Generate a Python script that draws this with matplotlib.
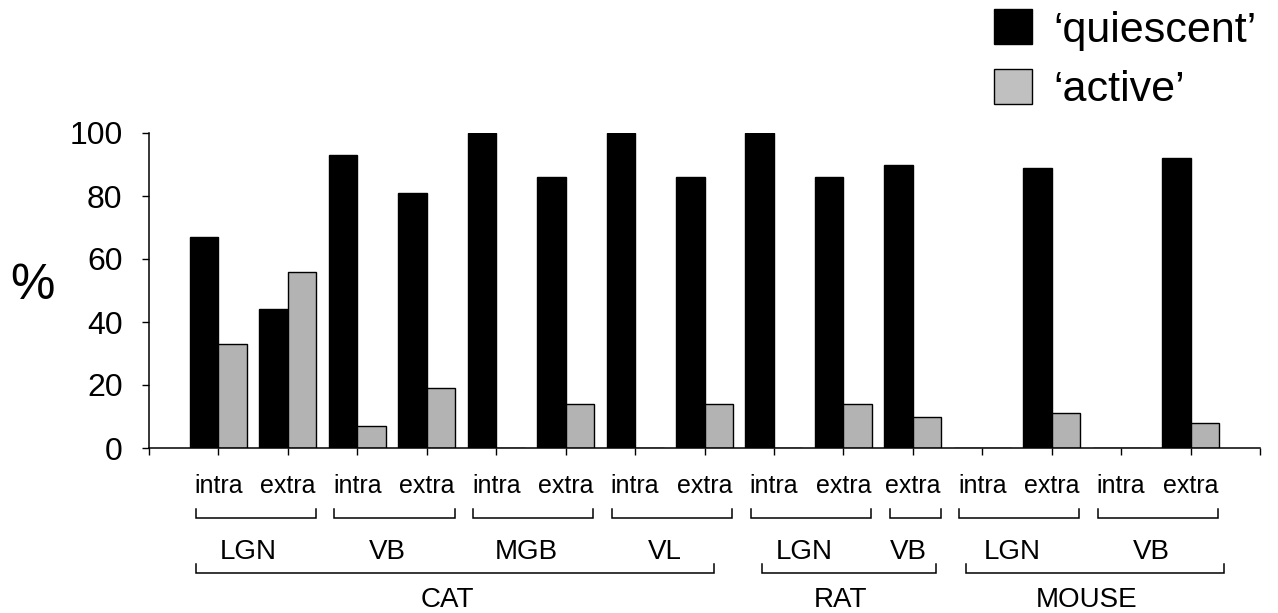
import matplotlib
matplotlib.use("Agg")
import matplotlib.pyplot as plt
from matplotlib.patches import Patch
import matplotlib.transforms as mtransforms

plt.rcParams['font.family'] = ['Liberation Sans', 'DejaVu Sans']

# recording site for each bar pair
sites = ['intra', 'extra', 'intra', 'extra', 'intra', 'extra', 'intra', 'extra',
         'intra', 'extra', 'extra', 'intra', 'extra', 'intra', 'extra']
quiescent = [67, 44, 93, 81, 100, 86, 100, 86, 100, 86, 90, 0, 89, 0, 92]
active = [33, 56, 7, 19, 0, 14, 0, 14, 0, 14, 10, 0, 11, 0, 8]

# nuclei: (label, first slot, last slot), slots numbered from 1
nuclei = [('LGN', 1, 2), ('VB', 3, 4), ('MGB', 5, 6), ('VL', 7, 8),
          ('LGN', 9, 10), ('VB', 11, 11), ('LGN', 12, 13), ('VB', 14, 15)]
species = [('CAT', 1, 8), ('RAT', 9, 11), ('MOUSE', 12, 15)]

# bracket overhang (left, right) in slot units for the species row
species_pad = [(0.32, 0.14), (0.17, 0.33), (0.24, 0.48)]

black = '#000000'
grey = '#b3b3b3'

fig = plt.figure(figsize=(12.78, 6.13), dpi=100)
ax = fig.add_axes([149 / 1278, 1 - 448 / 613, (1260 - 149) / 1278, (448 - 133) / 613])

x = list(range(1, len(sites) + 1))
w = 0.41
ax.bar([i - w / 2 for i in x], quiescent, width=w, color=black, edgecolor=black, linewidth=1)
ax.bar([i + w / 2 for i in x], active, width=w, color=grey, edgecolor=black, linewidth=1)

ax.set_xlim(0, 16)
ax.set_ylim(0, 100)
ax.set_xticks(range(0, 17))
ax.set_xticklabels([])
ax.set_yticks([0, 20, 40, 60, 80, 100])
ax.tick_params(axis='y', direction='out', length=5, width=1, labelsize=23, pad=14)
ax.tick_params(axis='x', direction='out', length=5, width=1)
for s in ['top', 'right']:
    ax.spines[s].set_visible(False)
for s in ['left', 'bottom']:
    ax.spines[s].set_linewidth(1.1)

trans = mtransforms.blended_transform_factory(ax.transData, ax.transAxes)

for i, lab in zip(x, sites):
    ax.text(i, -0.143, lab, transform=trans, ha='center', va='baseline', fontsize=18)


def bracket(lo, hi, y, h):
    ax.plot([lo, lo, hi, hi], [y + h, y, y, y + h], transform=trans, color='black',
            linewidth=1.1, clip_on=False, solid_joinstyle='miter')


for lab, a, b in nuclei:
    lo, hi = a - 0.33, b + 0.4
    bracket(lo, hi, -0.222, 0.029)
    ax.text((lo + hi) / 2 - 0.1, -0.352, lab, transform=trans, ha='center', va='baseline', fontsize=20)

for (lab, a, b), (pl, pr) in zip(species, species_pad):
    lo, hi = a - pl, b + pr
    bracket(lo, hi, -0.397, 0.029)
    ax.text((lo + hi) / 2 - 0.12, -0.505, lab, transform=trans, ha='center', va='baseline', fontsize=20)

fig.text(32 / 1278, 1 - 286 / 613, '%', ha='center', va='center', fontsize=36)

handles = [Patch(facecolor=black, edgecolor=black, linewidth=1),
           Patch(facecolor='#c0c0c0', edgecolor=black, linewidth=1)]
fig.legend(handles, ['\u2018quiescent\u2019', '\u2018active\u2019'], loc='upper left',
           bbox_to_anchor=(994 / 1278, 1 - 9 / 613), borderaxespad=0, borderpad=0,
           frameon=False, handlelength=0.89, handleheight=0.89, handletextpad=0.48,
           labelspacing=0.42, fontsize=31)

fig.savefig('out.png', dpi=100)
